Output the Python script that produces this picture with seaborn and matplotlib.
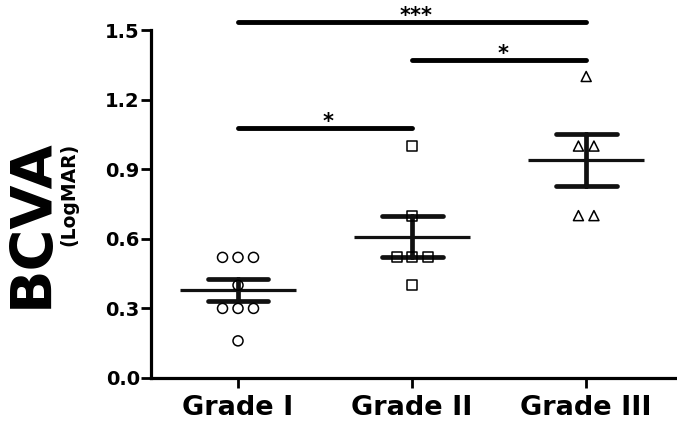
import numpy as np
import pandas as pd
import matplotlib
matplotlib.use("Agg")
import matplotlib.pyplot as plt
import seaborn as sns

# ---- data ----
groups = ["Grade I", "Grade II", "Grade III"]
grade1 = [0.52, 0.52, 0.52, 0.40, 0.30, 0.30, 0.30, 0.16]
grade2 = [1.00, 0.70, 0.52, 0.52, 0.52, 0.40]
grade3 = [1.30, 1.00, 1.00, 0.70, 0.70]
yticks = [0.0, 0.3, 0.6, 0.9, 1.2, 1.5]
# significance comparisons: (group a, group b, bar height, label)
sig_pairs = [(0, 1, 1.076, "*"), (1, 2, 1.369, "*"), (0, 2, 1.533, "***")]

sns.set_theme(style="ticks")
plt.rcParams["font.family"] = ["DejaVu Sans"]
plt.rcParams["font.weight"] = "bold"
plt.rcParams["text.color"] = "black"
plt.rcParams["xtick.color"] = "black"
plt.rcParams["ytick.color"] = "black"

# long table
rows = []
for gi, (g, vals) in enumerate(zip(groups, [grade1, grade2, grade3])):
    vals = np.asarray(vals)
    # spread tied values horizontally (Prism-like scatter)
    for v in np.unique(vals):
        n = int((vals == v).sum())
        offs = (np.arange(n) - (n - 1) / 2) * 0.089
        for o in offs:
            rows.append({"grade": g, "gi": gi, "x": gi + o, "value": v})
df = pd.DataFrame(rows)

fig = plt.figure(figsize=(6.77, 4.3), dpi=100)
ax = fig.add_axes([0.223, 0.121, 0.774, 0.809])

# mean +/- SEM
sns.pointplot(data=df, x="gi", y="value", order=[0, 1, 2], errorbar="se",
              capsize=0.35, markers="_", markersize=84, markeredgewidth=2.3,
              linestyles="none", color="#111111",
              err_kws={"linewidth": 3.4, "solid_capstyle": "round"},
              ax=ax, zorder=2)
for ln in ax.lines:
    ln.set_solid_capstyle("round")

# individual points
sns.scatterplot(data=df, x="x", y="value", style="grade",
                markers={"Grade I": "o", "Grade II": "s", "Grade III": "^"},
                s=52, facecolor="none", edgecolor="black", linewidth=1.1,
                legend=False, ax=ax, zorder=3)
for coll in ax.collections:
    coll.set_facecolor("none")
    coll.set_edgecolor("black")

# significance bars
for a, b, h, lab in sig_pairs:
    ax.plot([a, b], [h, h], color="black", lw=3.5, solid_capstyle="round",
            clip_on=False)
    ax.text((a + b) / 2 + 0.02, h, lab, ha="center", va="baseline",
            fontsize=15, fontweight="bold", color="black")

ax.set_xlim(-0.5, 2.51)
ax.set_ylim(0, 1.5)
ax.set_yticks(yticks)
ax.set_yticklabels([f"{t:.1f}" for t in yticks])
ax.set_xticks([0, 1, 2])
ax.set_xticklabels(groups)
ax.set_xlabel("")
ax.set_ylabel("")
sns.despine(ax=ax)
for sp in ["left", "bottom"]:
    ax.spines[sp].set_linewidth(2.3)
    ax.spines[sp].set_color("black")
ax.tick_params(axis="y", length=7, width=2.0, pad=1, labelsize=14, colors="black")
ax.tick_params(axis="x", length=7, width=2.0, pad=5, labelsize=19.5, colors="black")
for t in ax.get_xticklabels() + ax.get_yticklabels():
    t.set_fontweight("bold")
    t.set_color("black")

fig.text(0.047, 0.678, "BCVA", rotation=90, ha="center", va="top",
         fontsize=41, fontweight="bold", color="black")
fig.text(0.101, 0.667, "(LogMAR)", rotation=90, ha="center", va="top",
         fontsize=13.5, fontweight="bold", color="black")

fig.savefig("out.png", dpi=100)
